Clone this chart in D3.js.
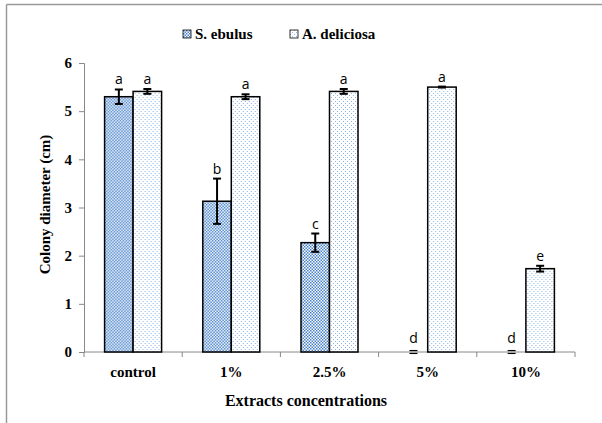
<!DOCTYPE html>
<html>
<head>
<meta charset="utf-8">
<script src="https://cdn.jsdelivr.net/npm/d3@7"></script>
<style>
  body { margin: 0; background: #fff; }
  svg { display: block; }
  .serif { font-family: "Liberation Serif", "Times New Roman", Times, serif; font-weight: bold; }
</style>
</head>
<body>
<svg width="602" height="423"></svg>
<script>
const categories = ['control', '1%', '2.5%', '5%', '10%'];
const seriesNames = ['S. ebulus', 'A. deliciosa'];
const ebulusValues = [5.30, 3.13, 2.27, 0, 0];
const ebulusErrors = [0.15, 0.47, 0.19, 0.03, 0.03];
const ebulusLetters = ['a', 'b', 'c', 'd', 'd'];
const deliciosaValues = [5.41, 5.30, 5.41, 5.50, 1.73];
const deliciosaErrors = [0.05, 0.05, 0.05, 0.01, 0.06];
const deliciosaLetters = ['a', 'a', 'a', 'a', 'e'];
const yTicks = [0, 1, 2, 3, 4, 5, 6];

const svg = d3.select('svg');
const margin = { top: 63, right: 27, bottom: 71, left: 84 };
const width = +svg.attr('width');
const height = +svg.attr('height');
const w = width - margin.left - margin.right;
const h = height - margin.top - margin.bottom;

// patterns
const defs = svg.append('defs');
const p1 = defs.append('pattern')
  .attr('id', 'pat-ebulus')
  .attr('patternUnits', 'userSpaceOnUse')
  .attr('width', 3).attr('height', 3);
p1.append('rect').attr('width', 3).attr('height', 3).attr('fill', '#ffffff');
p1.append('rect').attr('width', 1.5).attr('height', 1.5).attr('fill', '#4781cb');
p1.append('rect').attr('x', 1.5).attr('y', 1.5).attr('width', 1.5).attr('height', 1.5).attr('fill', '#4781cb');

const p2 = defs.append('pattern')
  .attr('id', 'pat-deliciosa')
  .attr('patternUnits', 'userSpaceOnUse')
  .attr('width', 4).attr('height', 4);
p2.append('rect').attr('width', 4).attr('height', 4).attr('fill', '#ffffff');
p2.append('rect').attr('width', 1).attr('height', 1).attr('fill', '#8fb3e6');
p2.append('rect').attr('x', 2).attr('y', 2).attr('width', 1).attr('height', 1).attr('fill', '#8fb3e6');

const fills = ['url(#pat-ebulus)', 'url(#pat-deliciosa)'];

// frame lines
svg.append('line').attr('x1', 6.5).attr('x2', width).attr('y1', 4.5).attr('y2', 4.5)
  .attr('stroke', '#9a9a9a').attr('stroke-width', 1.5);
svg.append('line').attr('x1', 6.5).attr('x2', 6.5).attr('y1', 4.5).attr('y2', height)
  .attr('stroke', '#9a9a9a').attr('stroke-width', 1.5);

const g = svg.append('g').attr('transform', `translate(${margin.left},${margin.top})`);

const x = d3.scaleBand().domain(categories).range([0, w]).paddingInner(0).paddingOuter(0);
const x1 = d3.scaleBand().domain(seriesNames).range([0, 57]);
const y = d3.scaleLinear().domain([0, 6]).range([h, 0]);

// y axis
const yAxis = g.append('g')
  .call(d3.axisLeft(y).tickValues(yTicks).tickSize(5).tickPadding(7).tickFormat(d3.format('d')));
yAxis.select('.domain').attr('stroke', '#888');
yAxis.selectAll('.tick line').attr('stroke', '#888');
yAxis.selectAll('text')
  .attr('class', 'serif')
  .attr('font-family', null)
  .attr('font-size', 15)
  .attr('fill', '#000');

// x axis: ticks at band boundaries
const xAxisG = g.append('g').attr('transform', `translate(0,${h})`);
xAxisG.append('line').attr('x1', 0).attr('x2', w).attr('stroke', '#888');
const bounds = d3.range(categories.length + 1).map(i => i * x.step());
xAxisG.selectAll('.bt').data(bounds).enter().append('line')
  .attr('x1', d => d).attr('x2', d => d).attr('y1', 0).attr('y2', 5)
  .attr('stroke', '#888');
xAxisG.selectAll('.xl').data(categories).enter().append('text')
  .attr('class', 'serif')
  .attr('x', d => x(d) + x.bandwidth() / 2)
  .attr('y', 25)
  .attr('text-anchor', 'middle')
  .attr('font-size', 15)
  .text(d => d);

// data rows
const rows = categories.map((c, i) => ({
  cat: c,
  bars: [
    { s: seriesNames[0], v: ebulusValues[i], e: ebulusErrors[i], l: ebulusLetters[i], k: 0 },
    { s: seriesNames[1], v: deliciosaValues[i], e: deliciosaErrors[i], l: deliciosaLetters[i], k: 1 }
  ]
}));

const groups = g.selectAll('.grp').data(rows).enter().append('g')
  .attr('transform', d => `translate(${x(d.cat) + (x.bandwidth() - 57) / 2},0)`);

const bar = groups.selectAll('.b').data(d => d.bars).enter().append('g');

bar.filter(d => d.v > 0).append('rect')
  .attr('x', d => x1(d.s))
  .attr('width', x1.bandwidth())
  .attr('y', d => y(d.v))
  .attr('height', d => h - y(d.v))
  .attr('fill', d => fills[d.k])
  .attr('stroke', '#000')
  .attr('stroke-width', 1.5);

// error bars (zero bars keep symmetric whiskers, giving the "=" mark)
const cx = d => x1(d.s) + x1.bandwidth() / 2;
const lo = d => (d.v === 0 ? -d.e : d.v - d.e);
const sw = d => (d.v === 0 ? 1.2 : 2);
bar.filter(d => d.v > 0).append('line')
  .attr('x1', cx).attr('x2', cx)
  .attr('y1', d => y(d.v + d.e)).attr('y2', d => y(lo(d)))
  .attr('stroke', '#000').attr('stroke-width', 2);
bar.append('line')
  .attr('x1', d => cx(d) - 4).attr('x2', d => cx(d) + 4)
  .attr('y1', d => y(d.v + d.e)).attr('y2', d => y(d.v + d.e))
  .attr('stroke', '#000').attr('stroke-width', sw);
bar.append('line')
  .attr('x1', d => cx(d) - 4).attr('x2', d => cx(d) + 4)
  .attr('y1', d => y(lo(d))).attr('y2', d => y(lo(d)))
  .attr('stroke', '#000').attr('stroke-width', sw);

// significance letters
bar.append('text')
  .attr('x', cx)
  .attr('y', d => y(d.v + d.e) - (d.v === 0 ? 8 : 5))
  .attr('text-anchor', 'middle')
  .attr('font-family', '"Open Sans", "Liberation Sans", sans-serif')
  .attr('font-size', 14)
  .text(d => d.l);

// axis titles
g.append('text')
  .attr('class', 'serif')
  .attr('transform', 'rotate(-90)')
  .attr('x', -(h / 2) + 3)
  .attr('y', -34)
  .attr('text-anchor', 'middle')
  .attr('font-size', 15)
  .text('Colony diameter (cm)');

g.append('text')
  .attr('class', 'serif')
  .attr('x', 306 - margin.left)
  .attr('y', h + 54)
  .attr('text-anchor', 'middle')
  .attr('font-size', 16)
  .text('Extracts concentrations');

// legend
const legendX = [183, 290];
const legend = svg.append('g').selectAll('.lg').data(seriesNames).enter().append('g')
  .attr('transform', (d, i) => `translate(${legendX[i]},30)`);
legend.append('rect')
  .attr('width', 8).attr('height', 8)
  .attr('fill', (d, i) => fills[i])
  .attr('stroke', '#000').attr('stroke-width', 0.8);
legend.append('text')
  .attr('class', 'serif')
  .attr('x', 12).attr('y', 8.5)
  .attr('font-size', 15)
  .text(d => d);
</script>
</body>
</html>
